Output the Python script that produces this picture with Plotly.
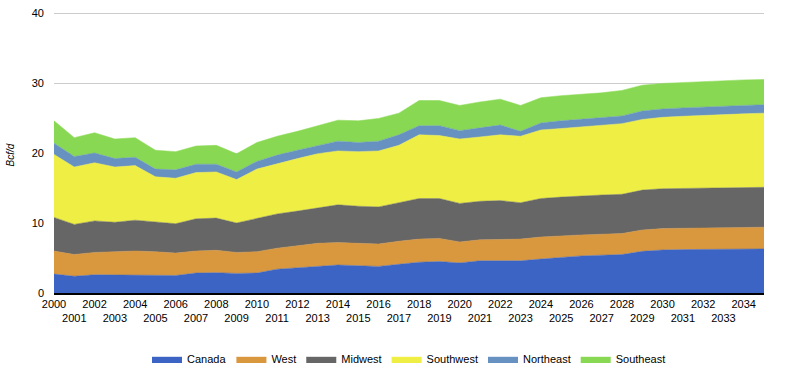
import plotly.graph_objects as go

years = list(range(2000, 2036))

canada = [2.7, 2.4, 2.6, 2.6, 2.6, 2.55, 2.5, 2.85, 2.9, 2.8, 2.85, 3.4, 3.6, 3.8, 4.0, 3.9, 3.8, 4.1,
          4.4, 4.5, 4.3, 4.6, 4.6, 4.6, 4.85, 5.1, 5.3, 5.4, 5.5, 5.95, 6.15, 6.2, 6.25, 6.3, 6.3, 6.3]
west = [3.3, 3.1, 3.2, 3.3, 3.4, 3.35, 3.2, 3.15, 3.2, 3.0, 3.05, 3.0, 3.2, 3.3, 3.2, 3.2, 3.2, 3.3,
        3.3, 3.3, 3.0, 3.0, 3.0, 3.1, 3.15, 3.1, 3.0, 3.0, 3.0, 3.05, 3.05, 3.05, 3.05, 3.05, 3.1, 3.1]
midwest = [4.8, 4.3, 4.5, 4.2, 4.4, 4.2, 4.2, 4.6, 4.6, 4.2, 4.8, 4.9, 4.9, 5.1, 5.4, 5.3, 5.3, 5.5,
           5.8, 5.7, 5.5, 5.5, 5.6, 5.2, 5.5, 5.5, 5.6, 5.6, 5.6, 5.7, 5.7, 5.7, 5.7, 5.7, 5.7, 5.7]
southwest = [9.0, 8.2, 8.3, 7.9, 7.8, 6.5, 6.5, 6.6, 6.6, 6.2, 7.0, 7.2, 7.5, 7.7, 7.7, 7.8, 8.0, 8.2,
             9.1, 9.0, 9.2, 9.2, 9.4, 9.5, 9.8, 9.8, 9.8, 10.0, 10.1, 10.1, 10.2, 10.3, 10.4, 10.45, 10.5, 10.6]
northeast = [1.6, 1.5, 1.4, 1.2, 1.2, 1.1, 1.2, 1.2, 1.1, 1.1, 1.1, 1.2, 1.2, 1.1, 1.4, 1.3, 1.4, 1.5,
             1.3, 1.4, 1.2, 1.3, 1.4, 0.7, 1.0, 1.1, 1.1, 1.0, 1.1, 1.2, 1.2, 1.2, 1.2, 1.2, 1.2, 1.2]
southeast = [3.2, 2.7, 2.9, 2.8, 2.8, 2.7, 2.6, 2.6, 2.7, 2.6, 2.7, 2.7, 2.7, 2.9, 3.0, 3.1, 3.25, 3.1,
             3.6, 3.6, 3.6, 3.7, 3.7, 3.7, 3.6, 3.6, 3.6, 3.6, 3.65, 3.7, 3.65, 3.65, 3.65, 3.65, 3.65, 3.6]

series_names = ["Canada", "West", "Midwest", "Southwest", "Northeast", "Southeast"]
series_values = [canada, west, midwest, southwest, northeast, southeast]
colors = ["#3b64c4", "#d9973e", "#666666", "#eeee44", "#6791c1", "#88d853"]

tick_years = list(range(2000, 2035))
tick_labels = [str(y) if y % 2 == 0 else "<br>" + str(y) for y in tick_years]

fig = go.Figure()
for name, vals, col in zip(series_names, series_values, colors):
    fig.add_trace(go.Scatter(
        x=years, y=vals, name=name, stackgroup="one", mode="lines",
        line=dict(width=0.5, color=col), fillcolor=col,
    ))

fig.update_layout(
    width=795, height=378,
    margin=dict(l=54, r=31, t=12, b=85, autoexpand=False),
    paper_bgcolor="white", plot_bgcolor="white",
    font=dict(family="Arial, Liberation Sans, sans-serif", size=11, color="#000000"),
    showlegend=True,
    legend=dict(orientation="h", x=0.5, xanchor="center", yref="container", y=0.05,
                yanchor="middle", font=dict(size=11), traceorder="normal"),
    xaxis=dict(range=[2000, 2035], tickvals=tick_years, ticktext=tick_labels, tickangle=0,
               showgrid=False, zeroline=False, showline=True, linecolor="#000000", linewidth=1.5,
               ticks="", tickfont=dict(size=11, color="#000000"), automargin=False),
    yaxis=dict(range=[0, 40.15], tickvals=[0, 10, 20, 30, 40], showgrid=True, gridcolor="#cccccc",
               zeroline=False, showline=False, ticks="", tickfont=dict(size=11, color="#000000"),
               ticklabelstandoff=9, automargin=False),
    annotations=[dict(text="<i>Bcf/d</i>", xref="paper", yref="paper", x=-0.062, y=0.493,
                      xanchor="center", yanchor="middle", textangle=-90, showarrow=False,
                      font=dict(size=10, color="#000000"))],
)

fig.write_html("out.html", config={"displayModeBar": False},
               post_script="document.body.style.margin='0';")
